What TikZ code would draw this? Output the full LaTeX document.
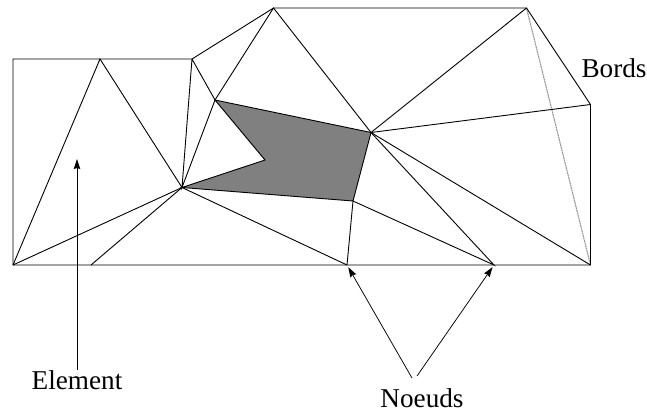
\documentclass[tikz,border=0pt]{standalone}
\usepackage{fontspec}
\setmainfont{Liberation Serif}
\usetikzlibrary{arrows.meta}
\tikzset{
  mesh/.style={draw=black,line width=0.9bp,line join=miter},
  hidden/.style={draw=black!40,line width=1.1bp,dash pattern=on 2bp off 0.6bp},
  elem/.style={mesh,fill=black!50},
  pointer/.style={draw=black,line width=0.75bp,-{Stealth[length=10bp,width=6.5bp,inset=1bp]},shorten >=2.5bp},
  lab/.style={inner sep=0pt,anchor=base,font=\fontsize{27.2bp}{30bp}\selectfont}
}
\begin{document}
\begin{tikzpicture}[x=1bp,y=-1bp]
\useasboundingbox (0,0) rectangle (647,412);
\coordinate (A) at (13,265);
\coordinate (B) at (13,59);
\coordinate (C) at (100,59);
\coordinate (D) at (192,59);
\coordinate (E) at (273.5,8);
\coordinate (F) at (526.5,8);
\coordinate (G) at (590.5,104.5);
\coordinate (H) at (590.5,265);
\coordinate (I) at (494,265);
\coordinate (J) at (347,265);
\coordinate (K) at (91,265);
\coordinate (L) at (182,187.5);
\coordinate (M) at (215,100);
\coordinate (N) at (265,160);
\coordinate (O) at (371,132.5);
\coordinate (P) at (353,201);
\coordinate (T) at (77,159);
\coordinate (Ta) at (77,370);
\coordinate (Na) at (412,378);
\coordinate (Nb) at (417,376);
\draw[elem] (M) -- (O) -- (P) -- (L) -- (N) -- cycle;
\draw[hidden] (F) -- (H);
\draw[mesh] (A) -- (B) -- (C) -- (D) -- (E) -- (F) -- (G) -- (H) -- (I) -- (J) -- (K) -- cycle;
\draw[mesh] (A) -- (C) -- (L) -- (A);
\draw[mesh] (K) -- (L) -- (J);
\draw[mesh] (D) -- (L) -- (M) -- (D);
\draw[mesh] (M) -- (E) -- (O) -- (F);
\draw[mesh] (O) -- (G);
\draw[mesh] (O) -- (H);
\draw[mesh] (O) -- (I) -- (P) -- (J);
\draw[pointer,shorten >=0pt] (Ta) -- (T);
\draw[pointer] (Na) -- (J);
\draw[pointer] (Nb) -- (I);
\node[lab] (element) at (77,389) {Element};
\node[lab] (noeuds) at (422,407.5) {Noeuds};
\node[lab] (bords) at (614,77) {Bords};
\end{tikzpicture}
\end{document}
